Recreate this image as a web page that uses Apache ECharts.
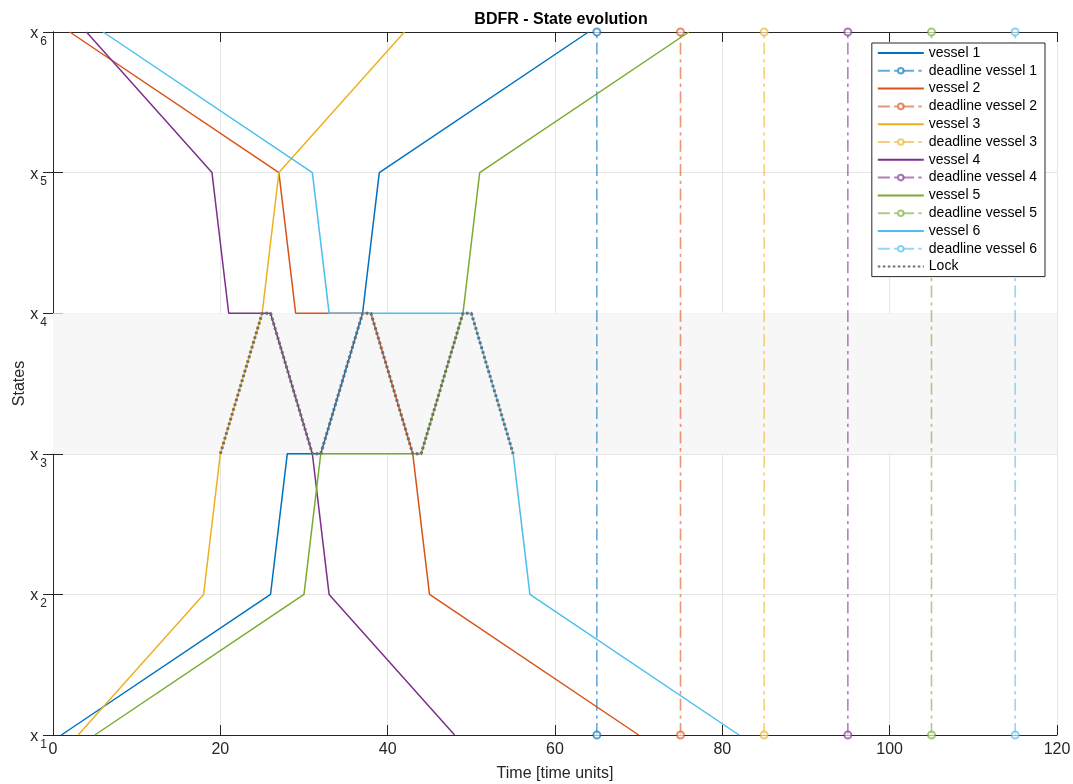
<!DOCTYPE html>
<html><head><meta charset="utf-8">
<script src="https://cdn.jsdelivr.net/npm/echarts@6/dist/echarts.min.js"></script>
<style>html,body{margin:0;padding:0;background:#fff}#c{width:1073px;height:784px}</style>
</head><body><div id="c"></div>
<script>
const vessel1 = [[1,1],[26,2],[28,3],[32,3],[37,4],[39,5],[64,6]];
const vessel2 = [[2,6],[27,5],[29,4],[38,4],[43,3],[45,2],[70,1]];
const vessel3 = [[3,1],[18,2],[20,3],[25,4],[27,5],[42,6]];
const vessel4 = [[4,6],[19,5],[21,4],[26,4],[31,3],[33,2],[48,1]];
const vessel5 = [[5,1],[30,2],[32,3],[44,3],[49,4],[51,5],[76,6]];
const vessel6 = [[6,6],[31,5],[33,4],[50,4],[55,3],[57,2],[82,1]];
const lockPath = [[20,3],[25,4],[26,4],[31,3],[32,3],[37,4],[38,4],[43,3],[44,3],[49,4],[50,4],[55,3]];
const deadlines = [65,75,85,95,105,115];
const vesselNames = ['vessel 1','vessel 2','vessel 3','vessel 4','vessel 5','vessel 6'];
const deadlineNames = ['deadline vessel 1','deadline vessel 2','deadline vessel 3','deadline vessel 4','deadline vessel 5','deadline vessel 6'];
const stateTicks = ['1','2','3','4','5','6'];
const lockBand = [3,4];

const colors = ['#0072BD','#D95319','#EDB120','#7E2F8E','#77AC30','#4DBEEE'];
const vessels = [vessel1,vessel2,vessel3,vessel4,vessel5,vessel6];
const FONT = 'Liberation Sans, Arial, Helvetica, sans-serif';

const series = [];
vessels.forEach((v,i)=>{
  series.push({name: vesselNames[i], type:'line', data:v, symbol:'none', color:colors[i],
    lineStyle:{width:1.5,color:colors[i]}, z:3, animation:false,
    markArea: i===0 ? {silent:true, itemStyle:{color:'#f7f7f7'}, data:[[{yAxis:lockBand[0]},{yAxis:lockBand[1]}]]} : undefined});
});
deadlines.forEach((d,i)=>{
  series.push({name: deadlineNames[i], type:'line', data:[[d,1],[d,6]], symbol:'emptyCircle', symbolSize:7,
    color:colors[i], itemStyle:{color:colors[i], opacity:0.65, borderWidth:1},
    lineStyle:{width:1.6, color:colors[i], type:[12,4.3,3.3,4.7], opacity:0.6}, z:2, animation:false});
});
series.push({name:'Lock', type:'line', data:lockPath, symbol:'none', color:'#6e6e6e',
  lineStyle:{width:3, color:'#6e6e6e', type:[2.5,2.5]}, z:5, animation:false});

const legendData = [];
for (let i=0;i<6;i++){
  legendData.push({name:vesselNames[i], itemStyle:{opacity:0}});
  legendData.push({name:deadlineNames[i]});
}
legendData.push({name:'Lock', itemStyle:{opacity:0}});

const chart = echarts.init(document.getElementById('c'));
const axisCol = '#262626';
chart.setOption({
  animation:false,
  title:{text:'BDFR - State evolution', left:556, top:7, textAlign:'center',
    textStyle:{fontFamily:FONT, fontSize:16, fontWeight:'bold', color:'#000'}},
  grid:{left:53, right:16, top:32, bottom:49, outerBoundsMode:'none', containLabel:false},
  legend:{data:legendData, orient:'vertical', right:28, top:43, itemWidth:46, itemHeight:7, itemGap:3.8,
    backgroundColor:'#fff', borderColor:'#262626', borderWidth:1, padding:[3,8,3,5],
    textStyle:{fontFamily:FONT, fontSize:14, color:'#000'}, selectedMode:false},
  xAxis:[{type:'value', min:0, max:120, interval:20, position:'bottom',
    name:'Time [time units]', nameLocation:'middle', nameGap:31,
    nameTextStyle:{fontFamily:FONT, fontSize:16, color:'#262626'},
    axisLine:{show:true, lineStyle:{color:axisCol, width:1}},
    axisTick:{show:true, inside:true, length:10, lineStyle:{color:axisCol}},
    axisLabel:{fontFamily:FONT, fontSize:16, color:'#262626', margin:7},
    splitLine:{show:true, lineStyle:{color:'#e6e6e6'}}},
   {type:'value', min:0, max:120, interval:20, position:'top',
    axisLine:{show:true, lineStyle:{color:axisCol}},
    axisTick:{show:true, inside:true, length:10, lineStyle:{color:axisCol}},
    axisLabel:{show:false}, splitLine:{show:false}}],
  yAxis:[{type:'value', min:1, max:6, interval:1, position:'left',
    name:'States', nameLocation:'middle', nameGap:25, nameRotate:90, nameMoveOverlap:false,
    nameTextStyle:{fontFamily:FONT, fontSize:16, color:'#262626'},
    axisLine:{show:true, lineStyle:{color:axisCol}},
    axisTick:{show:true, inside:true, length:10, lineStyle:{color:axisCol}},
    axisLabel:{margin:6, formatter:(v)=>'{x|x}{s|'+stateTicks[v-1]+'}',
      rich:{x:{fontFamily:FONT, fontSize:16, lineHeight:16, color:'#262626', padding:[3,0,0,0]},
            s:{fontFamily:FONT, fontSize:12, lineHeight:12, color:'#262626', padding:[19,0,0,2]}}},
    splitLine:{show:true, lineStyle:{color:'#e6e6e6'}}},
   {type:'value', min:1, max:6, interval:1, position:'right',
    axisLine:{show:true, lineStyle:{color:axisCol}},
    axisTick:{show:true, inside:true, length:10, lineStyle:{color:axisCol}},
    axisLabel:{show:false}, splitLine:{show:false}}],
  series: series
});
</script></body></html>
